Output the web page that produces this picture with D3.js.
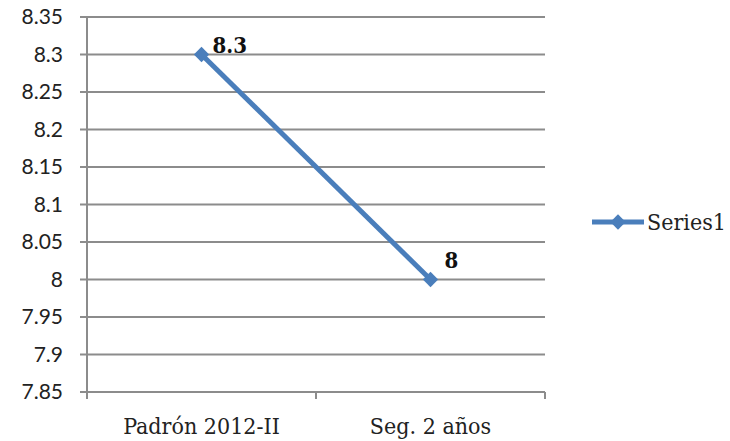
<!DOCTYPE html>
<html>
<head>
<meta charset="utf-8">
<script src="https://cdn.jsdelivr.net/npm/d3@7"></script>
<style>
body { margin: 0; background: #fff; }
.ylab { font-family: Lato, "Open Sans", sans-serif; font-size: 21px; fill: #222; }
.xlab, .leg { font-family: "DejaVu Serif Condensed", "DejaVu Serif", serif; font-size: 23px; fill: #222; }
.dlab { font-family: "DejaVu Serif Condensed", "DejaVu Serif", serif; font-size: 22px; font-weight: bold; fill: #111; }
</style>
</head>
<body>
<script>
var width = 730,
    height = 441;

var categories = ["Padrón 2012-II", "Seg. 2 años"];
var values = [8.3, 8];
var seriesName = "Series1";
var yTicks = [7.85, 7.9, 7.95, 8, 8.05, 8.1, 8.15, 8.2, 8.25, 8.3, 8.35];

var plotLeft = 87, plotRight = 545, plotTop = 17, plotBottom = 392;
var color = "#4a7ebb",
    grid = "#8c8c8c";
// label offsets from each point
var labelDx = [11, 14],
    labelDy = [-2, -12];

var svg = d3.select("body").append("svg")
    .attr("width", width)
    .attr("height", height);

var y = d3.scaleLinear()
    .domain([7.85, 8.35])
    .range([plotBottom, plotTop]);

var x = d3.scaleBand()
    .domain(categories)
    .range([plotLeft, plotRight]);

// gridlines + y labels
svg.append("g")
    .selectAll("line")
    .data(yTicks)
    .enter()
    .append("line")
    .attr("x1", plotLeft - 7)
    .attr("x2", plotRight)
    .attr("y1", function(d) { return y(d); })
    .attr("y2", function(d) { return y(d); })
    .attr("stroke", grid)
    .attr("stroke-width", 2);

svg.append("g")
    .selectAll("text")
    .data(yTicks)
    .enter()
    .append("text")
    .attr("class", "ylab")
    .attr("x", 63)
    .attr("y", function(d) { return y(d) + 7; })
    .attr("text-anchor", "end")
    .text(function(d) { return d3.format("")(d); });

// axes
svg.append("line")
    .attr("x1", plotLeft).attr("x2", plotLeft)
    .attr("y1", plotTop).attr("y2", plotBottom + 7)
    .attr("stroke", grid).attr("stroke-width", 2);

var xTicks = [plotLeft].concat(categories.map(function(c) { return x(c) + x.bandwidth(); }));
svg.append("g")
    .selectAll("line")
    .data(xTicks)
    .enter()
    .append("line")
    .attr("x1", function(d) { return d; })
    .attr("x2", function(d) { return d; })
    .attr("y1", plotBottom)
    .attr("y2", plotBottom + 7)
    .attr("stroke", grid)
    .attr("stroke-width", 2);

svg.append("g")
    .selectAll("text")
    .data(categories)
    .enter()
    .append("text")
    .attr("class", "xlab")
    .attr("x", function(d) { return x(d) + x.bandwidth() / 2; })
    .attr("y", 434)
    .attr("text-anchor", "middle")
    .text(function(d) { return d; });

// series line
var pts = categories.map(function(c, i) { return [x(c) + x.bandwidth() / 2, y(values[i])]; });

svg.append("path")
    .datum(pts)
    .attr("d", d3.line())
    .attr("fill", "none")
    .attr("stroke", color)
    .attr("stroke-width", 5);

var diamond = d3.symbol().type(d3.symbolDiamond2).size(150);

svg.append("g")
    .selectAll("path")
    .data(pts)
    .enter()
    .append("path")
    .attr("d", diamond)
    .attr("transform", function(d) { return "translate(" + d[0] + "," + d[1] + ")"; })
    .attr("fill", color);

svg.append("g")
    .selectAll("text")
    .data(pts)
    .enter()
    .append("text")
    .attr("class", "dlab")
    .attr("x", function(d, i) { return d[0] + labelDx[i]; })
    .attr("y", function(d, i) { return d[1] + labelDy[i]; })
    .text(function(d, i) { return values[i]; });

// legend
var lg = svg.append("g").attr("transform", "translate(592,222)");
lg.append("line")
    .attr("x1", 0).attr("x2", 52)
    .attr("stroke", color).attr("stroke-width", 5);
lg.append("path")
    .attr("d", diamond)
    .attr("transform", "translate(26,0)")
    .attr("fill", color);
lg.append("text")
    .attr("class", "leg")
    .attr("x", 55)
    .attr("y", 8)
    .text(seriesName);
</script>
</body>
</html>
